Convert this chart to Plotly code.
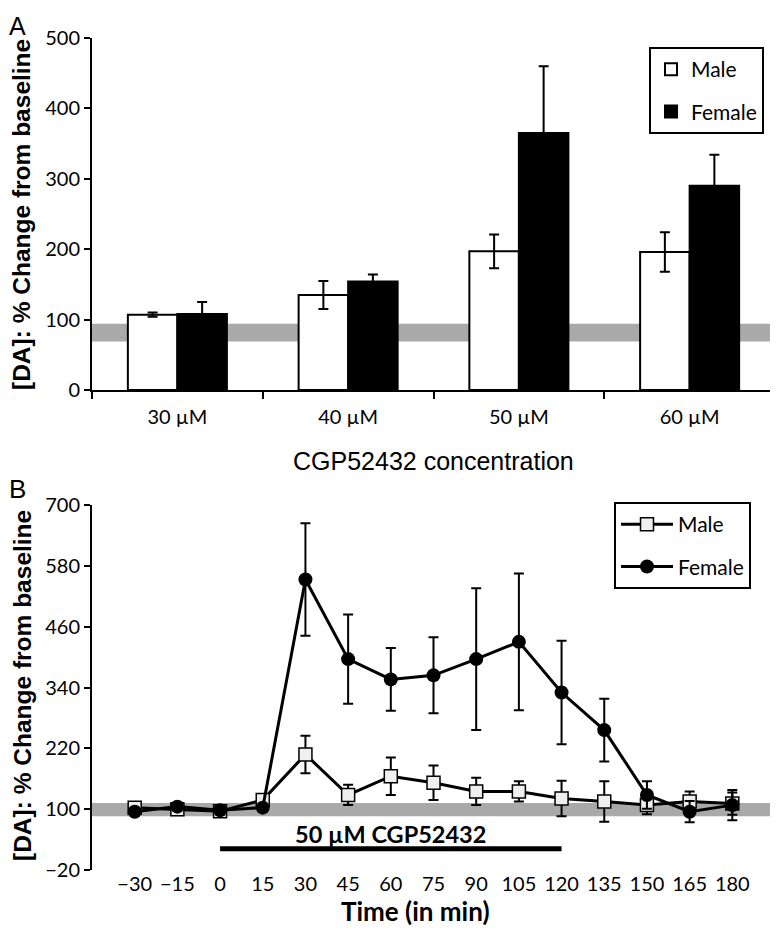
import plotly.graph_objects as go

# ---------------- Panel A data ----------------
concentrations = ["30 µM", "40 µM", "50 µM", "60 µM"]
male_a = [107, 135, 197, 196]
male_a_err = [3, 20, 24, 28]
female_a = [108, 154, 365, 290]
female_a_err = [17, 10, 95, 44]
baseline_band_a = [69, 94]

# ---------------- Panel B data ----------------
time_min = [-30, -15, 0, 15, 30, 45, 60, 75, 90, 105, 120, 135, 150, 165, 180]
male_b = [103, 100, 96, 118, 208, 128, 165, 152, 135, 135, 121, 115, 108, 115, 111]
male_b_err = [5, 5, 5, 6, 37, 20, 37, 34, 27, 20, 35, 40, 18, 20, 22]
female_b = [95, 105, 98, 103, 553, 396, 356, 364, 396, 430, 330, 256, 128, 95, 108]
female_b_err = [4, 5, 5, 6, 111, 88, 62, 75, 140, 135, 102, 62, 27, 21, 30]
baseline_band_b = [86, 112]
treatment_window = [0, 120]
treatment_label = "50 µM CGP52432"
time_ticks = [-45, -30, -15, 0, 15, 30, 45, 60, 75, 90, 105, 120, 135, 150, 165, 180, 195]
time_ticktext = ["", "−30", "−15", "0", "15", "30", "45", "60", "75", "90", "105", "120", "135", "150", "165", "180", ""]
yb_ticks = [-20, 100, 220, 340, 460, 580, 700]

ARIAL = "Liberation Sans, Arial, sans-serif"
LATO = "Lato, Open Sans, sans-serif"
TICKFONT = dict(family=LATO, size=20, color="black")

fig = go.Figure()

# Panel A bars
fig.add_trace(go.Bar(
    x=concentrations, y=male_a, name="Male",
    marker=dict(color="white", line=dict(color="black", width=2)),
    error_y=dict(type="data", array=male_a_err, color="black", thickness=2, width=5),
    xaxis="x", yaxis="y", legend="legend", legendgroup="am",
))
fig.add_trace(go.Bar(
    x=concentrations, y=female_a, name="Female",
    marker=dict(color="black", line=dict(color="black", width=2)),
    error_y=dict(type="data", array=female_a_err, color="black", thickness=2, width=5),
    xaxis="x", yaxis="y", legend="legend", legendgroup="af",
))

# Panel B lines
fig.add_trace(go.Scatter(
    x=time_min, y=male_b, name="Male", mode="lines+markers",
    line=dict(color="black", width=3),
    marker=dict(symbol="square", size=13, color="#efefef", line=dict(color="black", width=1.5)),
    error_y=dict(type="data", array=male_b_err, color="black", thickness=2, width=5),
    xaxis="x2", yaxis="y2", legend="legend2", legendgroup="bm",
))
fig.add_trace(go.Scatter(
    x=time_min, y=female_b, name="Female", mode="lines+markers",
    line=dict(color="black", width=3),
    marker=dict(symbol="circle", size=14, color="black"),
    error_y=dict(type="data", array=female_b_err, color="black", thickness=2, width=5),
    xaxis="x2", yaxis="y2", legend="legend2", legendgroup="bf",
))

# geometry (window pixel coordinates; page body has an 8px margin)
OFF = 8
W, H = 778 - OFF, 930 - OFF
ml, mr, mt = 92 - OFF, 3, 38 - OFF
plot_bottom_win = 870
mb = H - (plot_bottom_win - OFF)
ph = H - mt - mb
pw = W - ml - mr
domA = [(plot_bottom_win - 390) / ph, 1.0]
domB = [0.0, (plot_bottom_win - 505) / ph]
yb_range = [-20, 700]
zero_pos = domB[0] + (0 - yb_range[0]) / (yb_range[1] - yb_range[0]) * (domB[1] - domB[0])

def px_x(p):
    return (p - 92) / pw

def px_y(p):
    return (plot_bottom_win - p) / ph

shapes = [
    dict(type="rect", xref="x domain", yref="y", x0=0, x1=1,
         y0=baseline_band_a[0], y1=baseline_band_a[1],
         fillcolor="#a9a9a9", line=dict(width=0), layer="below"),
    dict(type="rect", xref="x2 domain", yref="y2", x0=0, x1=1,
         y0=baseline_band_b[0], y1=baseline_band_b[1],
         fillcolor="#a9a9a9", line=dict(width=0), layer="below"),
    dict(type="line", xref="x2", yref="y2", x0=treatment_window[0], x1=treatment_window[1],
         y0=22, y1=22, line=dict(color="black", width=5)),
]

def ann(text, x, y, font, **kw):
    d = dict(text=text, xref="paper", yref="paper", x=x, y=y, showarrow=False,
             xanchor="center", yanchor="middle", font=font)
    d.update(kw)
    return d

annotations = [
    ann("A", px_x(17), px_y(26), dict(family=ARIAL, size=25, color="black")),
    ann("B", px_x(17), px_y(489), dict(family=ARIAL, size=26, color="black")),
    ann("<b>[DA]: % Change from baseline</b>", px_x(22), px_y(215),
        dict(family=ARIAL, size=24.5, color="black"), textangle=-90),
    ann("<b>[DA]: % Change from baseline</b>", px_x(22), px_y(686),
        dict(family=ARIAL, size=24.5, color="black"), textangle=-90),
    ann("CGP52432 concentration", 0.5, px_y(461), dict(family=ARIAL, size=25, color="black")),
    ann("<b>Time (in min)</b>", px_x(415), px_y(911), dict(family=LATO, size=26, color="black")),
    dict(text="<b>" + treatment_label + "</b>", xref="x2", yref="y2",
         x=sum(treatment_window) / 2, y=52, showarrow=False,
         xanchor="center", yanchor="middle",
         font=dict(family=LATO, size=23.5, color="black")),
]

fig.update_layout(
    width=W, height=H,
    margin=dict(l=ml, r=mr, t=mt, b=mb, autoexpand=False),
    paper_bgcolor="white", plot_bgcolor="white",
    barmode="group", bargap=0.42, bargroupgap=0,
    shapes=shapes, annotations=annotations,
    xaxis=dict(domain=[0, 1], anchor="y", type="category",
               showline=True, linecolor="black", linewidth=2,
               ticks="outside", tickson="boundaries", ticklen=7, tickwidth=2, tickcolor="black",
               tickfont=TICKFONT, ticklabelstandoff=8, showgrid=False),
    yaxis=dict(domain=domA, anchor="x", range=[0, 500], tickvals=[0, 100, 200, 300, 400, 500],
               showline=True, linecolor="black", linewidth=2,
               ticks="outside", ticklen=6, tickwidth=2, tickcolor="black",
               tickfont=TICKFONT, showgrid=False, zeroline=False),
    xaxis2=dict(domain=[0, 1], anchor="y2", range=[-45, 195],
                tickvals=time_ticks, ticktext=time_ticktext,
                showline=False, ticks="", tickfont=TICKFONT, showgrid=False, zeroline=False),
    xaxis3=dict(overlaying="x2", anchor="free", position=zero_pos, range=[-45, 195],
                tickvals=time_ticks, showticklabels=False,
                showline=True, linecolor="black", linewidth=2,
                ticks="outside", ticklen=7, tickwidth=2, tickcolor="black",
                showgrid=False, zeroline=False),
    yaxis2=dict(domain=domB, anchor="x2", range=yb_range, tickvals=yb_ticks,
                showline=True, linecolor="black", linewidth=2,
                ticks="outside", ticklen=6, tickwidth=2, tickcolor="black",
                tickfont=TICKFONT, showgrid=False, zeroline=False),
    legend=dict(x=px_x(649), y=px_y(47), xanchor="left", yanchor="top",
                bordercolor="black", borderwidth=2, bgcolor="white",
                font=dict(family=LATO, size=21, color="black"),
                traceorder="grouped", tracegroupgap=12),
    legend2=dict(x=px_x(614), y=px_y(502), xanchor="left", yanchor="top",
                 bordercolor="black", borderwidth=2, bgcolor="white",
                 font=dict(family=LATO, size=21, color="black"),
                 traceorder="grouped", tracegroupgap=12, itemwidth=52),
    showlegend=True,
)

fig.write_html("out.html")
